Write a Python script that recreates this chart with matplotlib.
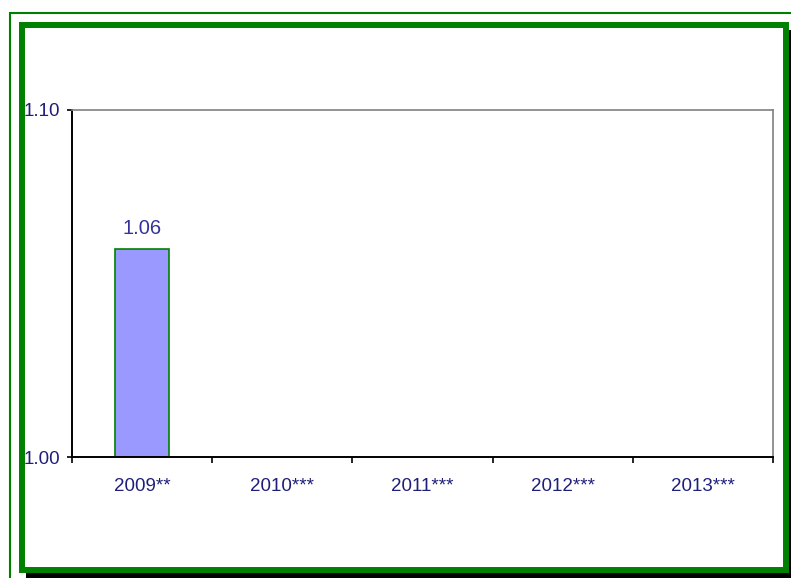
import matplotlib.pyplot as plt
from matplotlib.patches import Rectangle

plt.rcParams['font.family'] = ['Liberation Sans', 'DejaVu Sans']

categories = ['2009**', '2010***', '2011***', '2012***', '2013***']
values = [1.06, None, None, None, None]
y_ticks = [1.00, 1.10]

W, H = 791, 578
fig = plt.figure(figsize=(W / 100, H / 100), dpi=100)


def px_rect(x0, y0, x1, y1, **kw):
    # rectangle given in pixel coords, y measured from top
    r = Rectangle((x0 / W, 1 - y1 / H), (x1 - x0) / W, (y1 - y0) / H,
                  transform=fig.transFigure, **kw)
    fig.patches.append(r)
    return r


# outer thin frame (cut off at right/bottom)
px_rect(9.5, 12.5, 800, 590, fill=False, edgecolor='#008000', linewidth=1.5, zorder=0)
# shadow of the inner frame
px_rect(26, 30, 800, 590, facecolor='black', edgecolor='none', zorder=1)
# inner thick frame
px_rect(22, 25, 786, 569.5, facecolor='white', edgecolor='#008000', linewidth=4.3, zorder=2)

ax = fig.add_axes([72 / W, 1 - 457 / H, (773 - 72) / W, (457 - 110) / H])
ax.set_zorder(3)
ax.set_facecolor('white')

xs = list(range(len(categories)))
bar_x = [x for x, v in zip(xs, values) if v is not None]
bar_v = [v for v in values if v is not None]
bars = ax.bar(bar_x, [v - 1.0 for v in bar_v], bottom=1.0, width=0.385,
              color='#9999FF', edgecolor='#008000', linewidth=1.2)
for x, v in zip(bar_x, bar_v):
    ax.annotate(f'{v:.2f}', (x, v), xytext=(0, 8), textcoords='offset points',
                ha='center', va='bottom', fontsize=14.5, color='#333399')

ax.set_xlim(-0.5, len(categories) - 0.5)
ax.set_ylim(1.0, 1.1)

ax.set_yticks(y_ticks)
ax.set_yticklabels([f'{t:.2f}' for t in y_ticks])
ax.tick_params(axis='y', direction='out', length=3.6, width=1.2, color='black',
               labelsize=13.5, labelcolor='#1F1F7A', pad=5)

ax.set_xticks([x - 0.5 for x in range(len(categories) + 1)])
ax.set_xticklabels([])
ax.tick_params(axis='x', which='major', direction='out', length=4, width=1.2, color='black')
ax.set_xticks(xs, minor=True)
ax.set_xticklabels(categories, minor=True)
ax.tick_params(axis='x', which='minor', length=0, labelsize=13.5, labelcolor='#1F1F7A', pad=15)

for s in ['left', 'bottom']:
    ax.spines[s].set_color('black')
    ax.spines[s].set_linewidth(1.4)
for s in ['top', 'right']:
    ax.spines[s].set_color('#808080')
    ax.spines[s].set_linewidth(1.2)

fig.savefig('out.png', dpi=100)
